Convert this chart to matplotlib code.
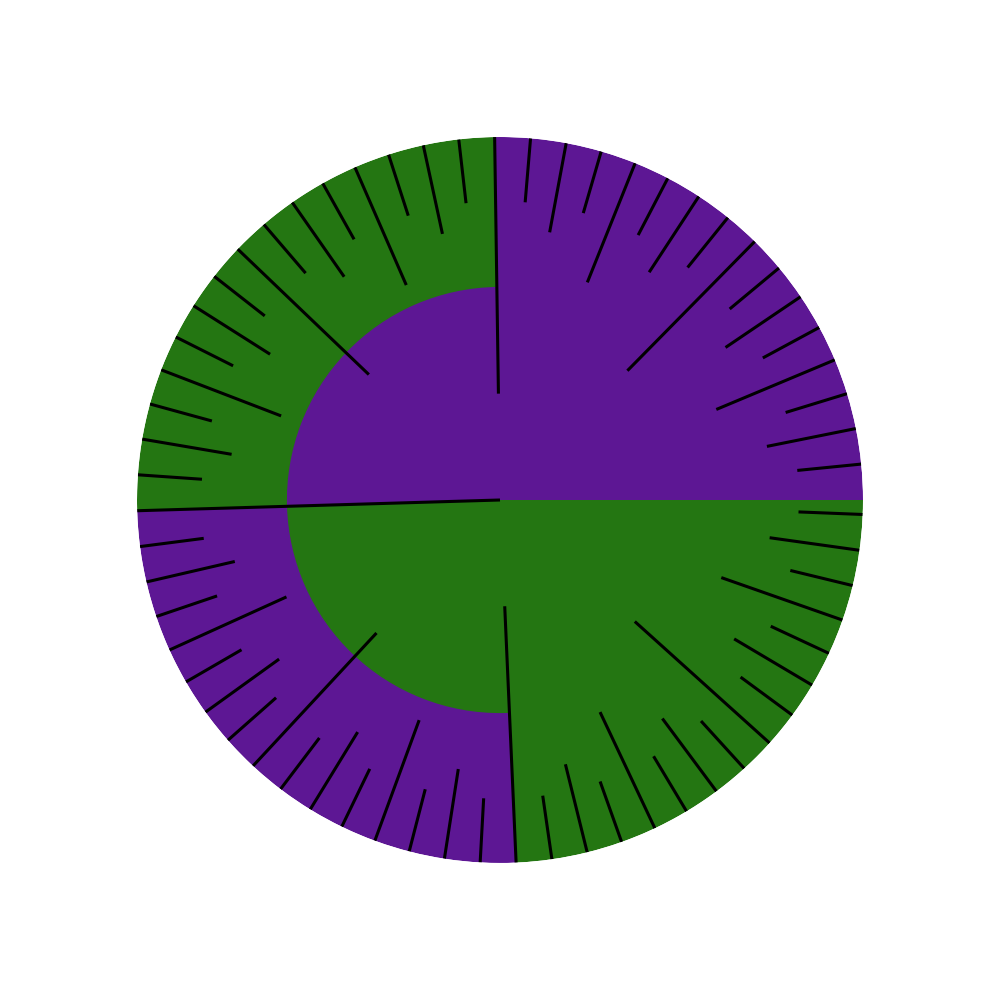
import numpy as np
import matplotlib
matplotlib.use("Agg")
import matplotlib.pyplot as plt

purple = "#5d1794"
green = "#247612"

# angular step between ruler ticks (degrees), ticks numbered 1..63
step_deg = 5.678
tick_ids = np.arange(1, 64)
# tick length (fraction of radius) by ruler level (trailing zeros of tick id)
level_len = [0.177, 0.25, 0.354, 0.5, 0.707, 1.0]

# outer ring sectors: start/end in tick units, colours
outer_start = [0, 16, 32, 48]
outer_end = [16, 32, 48, 360 / step_deg]
outer_col = [purple, green, purple, green]

# inner disc halves: start/end in tick units
inner_start = [0, 32]
inner_end = [32, 360 / step_deg]
inner_col = [purple, green]
inner_r = 0.587

fig = plt.figure(figsize=(10, 10), dpi=100)
ax = fig.add_axes([0.137, 0.137, 0.726, 0.726], projection="polar")

for s, e, c in zip(outer_start, outer_end, outer_col):
    t0 = np.deg2rad(s * step_deg)
    t1 = np.deg2rad(e * step_deg)
    ax.bar(t0, 1.0, width=t1 - t0, bottom=0, align="edge", color=c, linewidth=0)

for s, e, c in zip(inner_start, inner_end, inner_col):
    t0 = np.deg2rad(s * step_deg)
    t1 = np.deg2rad(e * step_deg)
    ax.bar(t0, inner_r, width=t1 - t0, bottom=0, align="edge", color=c, linewidth=0)

for k in tick_ids:
    lvl = (int(k) & -int(k)).bit_length() - 1
    th = np.deg2rad(k * step_deg)
    ax.plot([th, th], [1 - level_len[lvl], 1], color="black", lw=2.2,
            solid_capstyle="butt")

ax.set_ylim(0, 1)
ax.set_axis_off()

fig.savefig("out.png", dpi=100)
